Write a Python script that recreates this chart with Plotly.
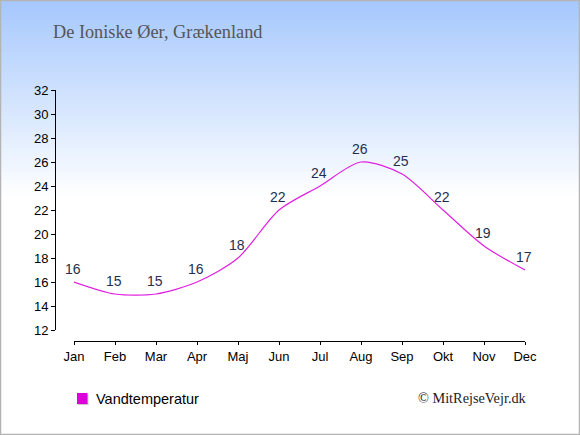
import plotly.graph_objects as go

months = ["Jan", "Feb", "Mar", "Apr", "Maj", "Jun", "Jul", "Aug", "Sep", "Okt", "Nov", "Dec"]
water_temp = [16, 15, 15, 16, 18, 22, 24, 26, 25, 22, 19, 17]
y_ticks = [12, 14, 16, 18, 20, 22, 24, 26, 28, 30, 32]
title_text = "De Ioniske Øer, Grækenland"
series_name = "Vandtemperatur"
credit_text = "© MitRejseVejr.dk"

W, H = 580, 435
ML, MR, MT, MB = 55, 55, 90, 94
PW, PH = W - ML - MR, H - MT - MB


def px(xp):
    return (xp - ML) / PW


def py(yp):
    return (H - MB - yp) / PH


fig = go.Figure()

fig.add_trace(go.Scatter(
    x=months, y=water_temp, mode="lines", name=series_name,
    line=dict(color="#e020e0", width=1.2, shape="spline", smoothing=0.8),
    showlegend=False, cliponaxis=False, hoverinfo="skip",
))

annotations = [
    dict(text=str(v), x=m, y=v, xref="x", yref="y", yshift=13, xshift=-1,
         showarrow=False, xanchor="center", yanchor="middle",
         font=dict(family="Liberation Sans, Arial", size=14, color="#1f2f4f"))
    for m, v in zip(months, water_temp)
]

# gradient background
shapes = []
top = (166, 200, 253)
n = 50
gh = 200
for i in range(n):
    t = i / (n - 1)
    c = tuple(round(top[k] + (255 - top[k]) * t) for k in range(3))
    y0 = i * gh / n
    y1 = (i + 1) * gh / n + 0.5
    shapes.append(dict(type="rect", xref="paper", yref="paper", layer="below",
                       x0=px(0), x1=px(W), y0=py(y1), y1=py(y0),
                       fillcolor="rgb(%d,%d,%d)" % c, line=dict(width=0)))
shapes.append(dict(type="rect", xref="paper", yref="paper", layer="above",
                   x0=px(0.5), x1=px(W - 0.5), y0=py(H - 0.5), y1=py(0.5),
                   fillcolor="rgba(0,0,0,0)", line=dict(color="#b4b4b4", width=1.5)))
# legend swatch (with a faint shadow)
shapes.append(dict(type="rect", xref="paper", yref="paper", layer="above",
                   x0=px(78), x1=px(88.5), y0=py(405), y1=py(394),
                   fillcolor="#c8c8c8", line=dict(width=0)))
shapes.append(dict(type="rect", xref="paper", yref="paper", layer="above",
                   x0=px(77), x1=px(87.5), y0=py(404), y1=py(393),
                   fillcolor="#dd00dd", line=dict(width=0)))

annotations += [
    dict(text=series_name, xref="paper", yref="paper", x=px(93.5), y=py(398.5),
         xanchor="left", yanchor="middle", showarrow=False,
         font=dict(family="Liberation Sans, Arial", size=14.5, color="black")),
    dict(text=title_text, xref="paper", yref="paper", x=px(51), y=py(32),
         xanchor="left", yanchor="middle", showarrow=False,
         font=dict(family="Liberation Serif, serif", size=18.3, color="#555555")),
    dict(text=credit_text, xref="paper", yref="paper", x=px(529), y=py(398),
         xanchor="right", yanchor="middle", showarrow=False,
         font=dict(family="Liberation Serif, serif", size=14.3, color="#222222")),
]

fig.update_layout(
    width=W, height=H,
    margin=dict(l=ML, r=MR, t=MT, b=MB),
    paper_bgcolor="white", plot_bgcolor="rgba(0,0,0,0)",
    shapes=shapes, showlegend=False,
    xaxis=dict(domain=[px(74), 1], anchor="free", position=0,
               range=[0, 11], showgrid=False, zeroline=False,
               showline=True, linecolor="black", linewidth=1,
               ticks="outside", ticklen=3, tickcolor="black",
               tickfont=dict(family="Liberation Sans, Arial", size=13, color="black")),
    yaxis=dict(domain=[py(330), 1], anchor="free", position=0,
               range=[12, 32], tickvals=y_ticks, showgrid=False, zeroline=False,
               showline=True, linecolor="black", linewidth=1,
               ticks="outside", ticklen=4, tickcolor="black",
               tickfont=dict(family="Liberation Sans, Arial", size=13, color="black")),
    annotations=annotations,
)

fig.write_html("out.html", config={"displayModeBar": False},
               post_script="document.body.style.margin='0';")
